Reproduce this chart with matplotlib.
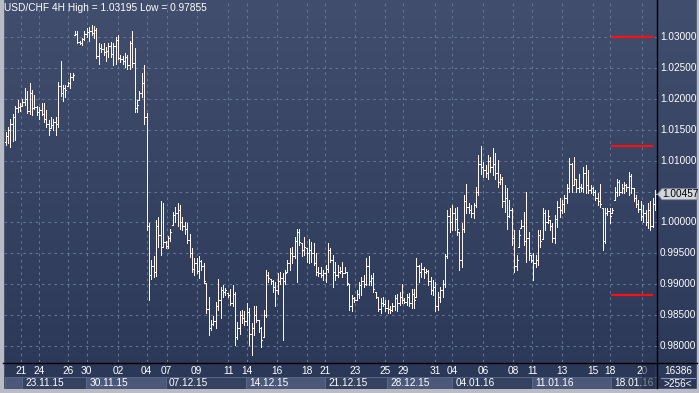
import numpy as np
import matplotlib
matplotlib.use("Agg")
import matplotlib.pyplot as plt
from matplotlib.patches import Rectangle, Polygon
from matplotlib.colors import LinearSegmentedColormap
from matplotlib.lines import Line2D
import matplotlib.transforms as mtransforms

# ---------------- data ----------------
symbol_title = "USD/CHF 4H High = 1.03195 Low = 0.97855"

highs = [
    1.0147, 1.0155, 1.0167, 1.0175, 1.0188, 1.0198, 1.0193, 1.0200, 1.0217, 1.0213,
    1.0225, 1.0214, 1.0206, 1.0188, 1.0186, 1.0193, 1.0193, 1.0182, 1.0166, 1.0171,
    1.0168, 1.0171, 1.0228, 1.0261, 1.0222, 1.0222, 1.0228, 1.0241, 1.0242, 1.0310,
    1.0309, 1.0294, 1.0298, 1.0309, 1.0314, 1.0317, 1.03195, 1.0318, 1.0314, 1.0290,
    1.0289, 1.0291, 1.0284, 1.0291, 1.0292, 1.0290, 1.0300, 1.0303, 1.0271, 1.0269,
    1.0274, 1.0271, 1.0294, 1.0309, 1.0282, 1.0198, 1.0213, 1.0241, 1.0255, 1.0177,
    0.9999, 0.9939, 0.9946, 1.0004, 1.0009, 1.0034, 1.0032, 0.9970, 0.9978, 0.9989,
    1.0017, 1.0025, 1.0031, 1.0028, 1.0009, 1.0001, 0.9999, 0.9982, 0.9959, 0.9942,
    0.9942, 0.9945, 0.9939, 0.9934, 0.9902, 0.9880, 0.9842, 0.9849, 0.9872, 0.9908,
    0.9896, 0.9899, 0.9894, 0.9886, 0.9893, 0.9899, 0.9888, 0.9839, 0.9856, 0.9858,
    0.9856, 0.9870, 0.9861, 0.9837, 0.9864, 0.9865, 0.9842, 0.9831, 0.9858, 0.9923,
    0.9920, 0.9908, 0.9907, 0.9904, 0.9918, 0.9920, 0.9918, 0.9923, 0.9939, 0.9958,
    0.9961, 0.9977, 0.9990, 0.9990, 0.9966, 0.9976, 0.9958, 0.9974, 0.9969, 0.9967,
    0.9950, 0.9928, 0.9928, 0.9923, 0.9931, 0.9967, 0.9958, 0.9947, 0.9936, 0.9931,
    0.9928, 0.9936, 0.9928, 0.9920, 0.9901, 0.9883, 0.9880, 0.9891, 0.9904, 0.9912,
    0.9915, 0.9942, 0.9945, 0.9915, 0.9918, 0.9888, 0.9880, 0.9877, 0.9880, 0.9874,
    0.9874, 0.9864, 0.9869, 0.9883, 0.9885, 0.9888, 0.9901, 0.9877, 0.9885, 0.9886,
    0.9892, 0.9893, 0.9942, 0.9931, 0.9934, 0.9928, 0.9924, 0.9923, 0.9912, 0.9907,
    0.9904, 0.9888, 0.9896, 0.9907, 0.9949, 1.0020, 1.0023, 1.0028, 1.0023, 1.0025,
    0.9985, 0.9999, 1.0044, 1.0063, 1.0031, 1.0028, 1.0031, 1.0058, 1.0109, 1.0124,
    1.0098, 1.0093, 1.0109, 1.0106, 1.0120, 1.0112, 1.0101, 1.0079, 1.0074, 1.0060,
    1.0055, 1.0036, 1.0023, 0.9988, 0.9947, 0.9988, 1.0004, 1.0017, 1.0050, 0.9985,
    0.9947, 0.9950, 0.9947, 0.9988, 0.9988, 1.0023, 1.0020, 1.0020, 1.0004, 0.9999,
    1.0012, 1.0034, 1.0039, 1.0036, 1.0044, 1.0063, 1.0104, 1.0096, 1.0106, 1.0071,
    1.0079, 1.0063, 1.0090, 1.0093, 1.0085, 1.0060, 1.0058, 1.0052, 1.0047, 1.0063,
    1.0023, 1.0023, 1.0023, 1.0024, 1.0023, 1.0058, 1.0071, 1.0069, 1.0063, 1.0066,
    1.0063, 1.0082, 1.0079, 1.0055, 1.0044, 1.0036, 1.0034, 1.0028, 1.0020, 1.0031,
    1.0034, 1.0039, 1.0052,
]

lows = [
    1.0125, 1.0128, 1.0122, 1.0131, 1.0134, 1.0179, 1.0181, 1.0188, 1.0190, 1.0177,
    1.0175, 1.0174, 1.0183, 1.0174, 1.0168, 1.0174, 1.0163, 1.0155, 1.0141, 1.0152,
    1.0150, 1.0141, 1.0155, 1.0205, 1.0197, 1.0203, 1.0220, 1.0217, 1.0230, 1.0303,
    1.0290, 1.0289, 1.0287, 1.0295, 1.0300, 1.0294, 1.0303, 1.0298, 1.0266, 1.0257,
    1.0276, 1.0271, 1.0262, 1.0267, 1.0268, 1.0255, 1.0257, 1.0264, 1.0260, 1.0257,
    1.0252, 1.0248, 1.0249, 1.0252, 1.0179, 1.0179, 1.0198, 1.0203, 1.0160, 0.9988,
    0.9874, 0.9908, 0.9912, 0.9913, 0.9961, 0.9947, 0.9961, 0.9959, 0.9959, 0.9970,
    0.9996, 1.0001, 0.9994, 0.9990, 0.9988, 0.9982, 0.9967, 0.9944, 0.9920, 0.9915,
    0.9918, 0.9910, 0.9923, 0.9902, 0.9853, 0.9818, 0.9826, 0.9834, 0.9829, 0.9858,
    0.9845, 0.9880, 0.9883, 0.9880, 0.9866, 0.9864, 0.9802, 0.9812, 0.9820, 0.9837,
    0.9834, 0.9834, 0.9802, 0.97855, 0.9818, 0.9839, 0.9823, 0.9799, 0.9815, 0.9847,
    0.9904, 0.9901, 0.9888, 0.9864, 0.9885, 0.9901, 0.9810, 0.9901, 0.9920, 0.9923,
    0.9934, 0.9942, 0.9904, 0.9963, 0.9945, 0.9947, 0.9936, 0.9934, 0.9936, 0.9931,
    0.9915, 0.9913, 0.9912, 0.9907, 0.9904, 0.9920, 0.9936, 0.9896, 0.9907, 0.9912,
    0.9918, 0.9912, 0.9918, 0.9899, 0.9858, 0.9856, 0.9872, 0.9874, 0.9877, 0.9883,
    0.9896, 0.9899, 0.9899, 0.9899, 0.9888, 0.9877, 0.9856, 0.9853, 0.9864, 0.9856,
    0.9853, 0.9853, 0.9856, 0.9858, 0.9856, 0.9866, 0.9869, 0.9869, 0.9866, 0.9864,
    0.9861, 0.9861, 0.9880, 0.9904, 0.9912, 0.9910, 0.9918, 0.9899, 0.9885, 0.9883,
    0.9856, 0.9858, 0.9872, 0.9880, 0.9896, 0.9942, 0.9985, 0.9988, 0.9988, 0.9980,
    0.9923, 0.9928, 0.9985, 1.0015, 1.0015, 1.0009, 1.0007, 1.0025, 1.0044, 1.0079,
    1.0074, 1.0074, 1.0071, 1.0082, 1.0077, 1.0071, 1.0058, 1.0063, 1.0025, 1.0017,
    0.9990, 1.0009, 0.9963, 0.9920, 0.9923, 0.9961, 0.9991, 0.9963, 0.9936, 0.9939,
    0.9936, 0.9907, 0.9928, 0.9931, 0.9961, 0.9974, 0.9988, 0.9999, 0.9988, 0.9969,
    0.9966, 0.9993, 1.0009, 1.0015, 1.0017, 1.0031, 1.0050, 1.0050, 1.0061, 1.0050,
    1.0050, 1.0051, 1.0050, 1.0047, 1.0047, 1.0047, 1.0044, 1.0036, 1.0028, 1.0025,
    0.9955, 0.9966, 1.0012, 0.9999, 1.0016, 1.0036, 1.0042, 1.0044, 1.0047, 1.0047,
    1.0051, 1.0044, 1.0047, 1.0034, 1.0025, 1.0017, 1.0004, 1.0001, 0.9996, 0.9991,
    0.9988, 0.9993, 1.0020,
]

opens = [
    1.0130, 1.0140, 1.0150, 1.0160, 1.0170, 1.0185, 1.0186, 1.0188, 1.0195, 1.0200,
    1.0180, 1.0210, 1.0185, 1.0186, 1.0178, 1.0182, 1.0176, 1.0168, 1.0160, 1.0152,
    1.0158, 1.0162, 1.0160, 1.0220, 1.0210, 1.0218, 1.0220, 1.0225, 1.0235, 1.0303,
    1.0305, 1.0292, 1.0291, 1.0296, 1.0305, 1.0308, 1.0310, 1.0306, 1.0312, 1.0270,
    1.0282, 1.0280, 1.0275, 1.0278, 1.0285, 1.0272, 1.0285, 1.0295, 1.0266, 1.0265,
    1.0262, 1.0268, 1.0255, 1.0290, 1.0258, 1.0185, 1.0198, 1.0210, 1.0225, 1.0170,
    0.9995, 0.9915, 0.9930, 0.9920, 0.9995, 0.9980, 0.9961, 0.9968, 0.9962, 0.9975,
    0.9996, 1.0012, 1.0015, 1.0020, 1.0000, 0.9995, 0.9990, 0.9972, 0.9950, 0.9925,
    0.9935, 0.9922, 0.9938, 0.9930, 0.9902, 0.9860, 0.9830, 0.9835, 0.9840, 0.9865,
    0.9875, 0.9890, 0.9888, 0.9886, 0.9883, 0.9870, 0.9885, 0.9815, 0.9830, 0.9850,
    0.9845, 0.9840, 0.9855, 0.9820, 0.9830, 0.9850, 0.9842, 0.9830, 0.9815, 0.9850,
    0.9915, 0.9908, 0.9905, 0.9895, 0.9890, 0.9905, 0.9910, 0.9905, 0.9920, 0.9935,
    0.9950, 0.9945, 0.9970, 0.9985, 0.9966, 0.9955, 0.9958, 0.9950, 0.9955, 0.9950,
    0.9935, 0.9920, 0.9918, 0.9915, 0.9918, 0.9925, 0.9955, 0.9940, 0.9920, 0.9915,
    0.9920, 0.9922, 0.9918, 0.9920, 0.9901, 0.9865, 0.9878, 0.9875, 0.9885, 0.9898,
    0.9905, 0.9900, 0.9930, 0.9905, 0.9910, 0.9888, 0.9880, 0.9860, 0.9870, 0.9868,
    0.9862, 0.9860, 0.9858, 0.9865, 0.9878, 0.9870, 0.9880, 0.9875, 0.9872, 0.9880,
    0.9870, 0.9885, 0.9880, 0.9930, 0.9920, 0.9925, 0.9920, 0.9921, 0.9905, 0.9890,
    0.9895, 0.9865, 0.9880, 0.9890, 0.9900, 0.9945, 1.0010, 1.0000, 1.0015, 1.0005,
    0.9985, 0.9940, 0.9990, 1.0035, 1.0025, 1.0020, 1.0015, 1.0028, 1.0050, 1.0095,
    1.0090, 1.0085, 1.0080, 1.0100, 1.0090, 1.0095, 1.0080, 1.0065, 1.0070, 1.0035,
    1.0040, 1.0010, 1.0020, 0.9975, 0.9930, 0.9961, 0.9991, 0.9995, 0.9970, 0.9975,
    0.9947, 0.9940, 0.9935, 0.9940, 0.9980, 0.9974, 1.0015, 1.0000, 1.0004, 0.9995,
    0.9975, 1.0005, 1.0025, 1.0020, 1.0030, 1.0040, 1.0055, 1.0095, 1.0061, 1.0070,
    1.0055, 1.0058, 1.0055, 1.0080, 1.0060, 1.0052, 1.0055, 1.0050, 1.0040, 1.0035,
    1.0023, 0.9970, 1.0015, 1.0018, 1.0016, 1.0036, 1.0050, 1.0065, 1.0050, 1.0055,
    1.0060, 1.0058, 1.0075, 1.0055, 1.0040, 1.0030, 1.0022, 1.0010, 1.0015, 1.0000,
    1.0020, 0.9995, 1.0030,
]

closes = [
    1.0140, 1.0150, 1.0160, 1.0170, 1.0185, 1.0186, 1.0188, 1.0195, 1.0200, 1.0180,
    1.0210, 1.0185, 1.0186, 1.0178, 1.0182, 1.0176, 1.0168, 1.0160, 1.0150, 1.0158,
    1.0162, 1.0160, 1.0220, 1.0210, 1.0218, 1.0214, 1.0225, 1.0235, 1.0238, 1.0305,
    1.0292, 1.0291, 1.0296, 1.0305, 1.0308, 1.0310, 1.0306, 1.0312, 1.0270, 1.0282,
    1.0280, 1.0275, 1.0278, 1.0285, 1.0272, 1.0285, 1.0295, 1.0266, 1.0265, 1.0262,
    1.0268, 1.0255, 1.0290, 1.0258, 1.0185, 1.0190, 1.0210, 1.0225, 1.0170, 0.9995,
    0.9915, 0.9930, 0.9920, 0.9995, 0.9980, 0.9960, 0.9968, 0.9962, 0.9975, 0.9985,
    1.0012, 1.0015, 1.0020, 1.0000, 0.9995, 0.9990, 0.9972, 0.9950, 0.9925, 0.9935,
    0.9922, 0.9938, 0.9930, 0.9905, 0.9860, 0.9830, 0.9835, 0.9840, 0.9865, 0.9875,
    0.9890, 0.9888, 0.9890, 0.9883, 0.9870, 0.9885, 0.9815, 0.9830, 0.9850, 0.9845,
    0.9840, 0.9855, 0.9820, 0.9830, 0.9850, 0.9842, 0.9830, 0.9810, 0.9850, 0.9915,
    0.9910, 0.9905, 0.9895, 0.9890, 0.9905, 0.9910, 0.9905, 0.9918, 0.9935, 0.9950,
    0.9945, 0.9970, 0.9985, 0.9968, 0.9955, 0.9960, 0.9950, 0.9955, 0.9950, 0.9935,
    0.9920, 0.9918, 0.9915, 0.9918, 0.9925, 0.9955, 0.9940, 0.9920, 0.9915, 0.9920,
    0.9922, 0.9918, 0.9920, 0.9902, 0.9865, 0.9878, 0.9875, 0.9885, 0.9898, 0.9905,
    0.9900, 0.9930, 0.9905, 0.9910, 0.9892, 0.9880, 0.9860, 0.9870, 0.9868, 0.9862,
    0.9860, 0.9858, 0.9865, 0.9878, 0.9870, 0.9880, 0.9875, 0.9872, 0.9880, 0.9870,
    0.9885, 0.9875, 0.9930, 0.9920, 0.9925, 0.9920, 0.9921, 0.9905, 0.9890, 0.9895,
    0.9865, 0.9880, 0.9890, 0.9900, 0.9945, 1.0010, 1.0000, 1.0015, 1.0005, 0.9990,
    0.9940, 0.9990, 1.0035, 1.0025, 1.0020, 1.0015, 1.0028, 1.0050, 1.0095, 1.0090,
    1.0085, 1.0080, 1.0100, 1.0090, 1.0095, 1.0080, 1.0065, 1.0070, 1.0035, 1.0040,
    1.0010, 1.0020, 0.9975, 0.9930, 0.9940, 0.9980, 0.9995, 0.9970, 0.9975, 0.9950,
    0.9940, 0.9935, 0.9940, 0.9980, 0.9970, 1.0015, 1.0000, 1.0010, 0.9995, 0.9975,
    1.0005, 1.0025, 1.0020, 1.0030, 1.0040, 1.0055, 1.0095, 1.0060, 1.0070, 1.0055,
    1.0058, 1.0055, 1.0080, 1.0060, 1.0052, 1.0055, 1.0050, 1.0040, 1.0035, 1.0030,
    0.9970, 1.0015, 1.0018, 1.0010, 1.0020, 1.0050, 1.0065, 1.0050, 1.0055, 1.0060,
    1.0058, 1.0075, 1.0055, 1.0040, 1.0030, 1.0022, 1.0010, 1.0015, 1.0000, 1.0020,
    0.9995, 1.0030, 1.00457,
]

price_ticks = [1.03, 1.025, 1.02, 1.015, 1.01, 1.005, 1.0, 0.995, 0.99, 0.985, 0.98]
red_levels = [1.0300, 1.0123, 0.9883]

day_labels = ["21", "24", "26", "30", "02", "04", "07", "09", "11", "14", "16", "18",
              "21", "23", "25", "29", "31", "04", "06", "08", "11", "13", "15", "18", "20"]
day_label_bars = [6.28, 13.95, 26.23, 33.93, 47.17, 59.07, 67.45, 80.02, 93.26, 100.96,
                  113.53, 126.10, 133.77, 146.34, 158.90, 166.44, 179.85, 186.97, 199.96,
                  212.53, 220.49, 233.06, 246.05, 253.17, 266.57]

week_labels = ["", "23.11.15", "30.11.15", "07.12.15", "14.12.15", "21.12.15",
               "28.12.15", "04.01.16", "11.01.16", "18.01.16"]
week_start_bars = [-0.29, 6.83, 33.64, 67.15, 100.67, 133.77, 159.74, 186.97, 220.49, 253.59]

corner_top = "16386"
corner_bottom = ">256<"

# ---------------- figure ----------------
W, H = 699, 393
fig = plt.figure(figsize=(W / 100, H / 100), dpi=100)
plt.rcParams["font.family"] = ["Liberation Sans", "DejaVu Sans"]

def fx(px):
    return px / W

def fy(py):
    return 1 - py / H

bg = fig.add_axes([0, 0, 1, 1])
bg.set_axis_off()
bg.set_xlim(0, 1)
bg.set_ylim(0, 1)
grad = np.linspace(0, 1, 256).reshape(-1, 1)
cmap = LinearSegmentedColormap.from_list("bg", ["#414e6d", "#2a3756"])
bg.imshow(grad, aspect="auto", cmap=cmap, extent=[0, 1, 0, 1], origin="upper", zorder=0)

frame_col = "#b9bcc4"
bg.add_patch(Rectangle((0, 0), fx(3), 1, color=frame_col, zorder=1))
bg.add_patch(Rectangle((0, 0), 1, fy(388.5), color=frame_col, zorder=1))
bg.add_patch(Rectangle((fx(697), 0), 1 - fx(697), 1, color=frame_col, zorder=1))

ax = fig.add_axes([fx(4), fy(362), (657 - 4) / W, 362 / H])
ax.patch.set_alpha(0)
for s in ax.spines.values():
    s.set_visible(False)
ax.set_xticks([])
ax.set_yticks([])
n = len(highs)
x = np.arange(n)
ax.set_xlim(-0.712, 272.8)
ax.set_ylim(0.97742, 1.03599)

grid_col = "#66759a"
for p in price_ticks:
    ax.axhline(p, color=grid_col, lw=0.75, ls=(0, (2.5, 3.5)), zorder=1)
for b in day_label_bars:
    ax.axvline(b, color=grid_col, lw=0.75, ls=(0, (2.5, 3.5)), zorder=1)

bar_col = "#fff6f2"
LW = 0.72
ax.vlines(x, lows, highs, colors=bar_col, lw=LW, antialiased=False, zorder=3)
ax.hlines(opens, x - 0.42, x, colors=bar_col, lw=LW, antialiased=False, zorder=3)
ax.hlines(closes, x, x + 0.42, colors=bar_col, lw=LW, antialiased=False, zorder=3)

ax.hlines(red_levels, 253.6, 271.2, colors="#ff1010", lw=1.6, zorder=4)

fig.text(fx(4), fy(8), symbol_title, color="white", fontsize=7.3, ha="left", va="center")

# current price tag position
last = closes[-1]
yf = ax.transData.transform((0, last))[1] / H
hh = 5.5 / H

trans = mtransforms.blended_transform_factory(fig.transFigure, ax.transData)
for p in price_ticks:
    py = ax.transData.transform((0, p))[1] / H
    if abs(py - yf) < 12 / H:
        continue  # hidden behind the current-price tag
    ax.text(fx(660), p, f"{p:.5f}", transform=trans, color="white", fontsize=7.2,
            ha="left", va="center", clip_on=False)

poly = Polygon([(fx(657.5), yf), (fx(662), yf + hh), (fx(697), yf + hh),
                (fx(697), yf - hh), (fx(662), yf - hh)], closed=True,
               transform=fig.transFigure, facecolor="#d2d5dc", edgecolor="#8a8f9c",
               lw=0.6, zorder=10)
fig.patches.append(poly)
fig.text(fx(680), yf, f"{last:.5f}", color="black", fontsize=7.2, ha="center",
         va="center", zorder=11)

fig.add_artist(Line2D([fx(657), fx(657)], [fy(0), fy(388)], color="black", lw=1.0,
                      transform=fig.transFigure))
fig.add_artist(Line2D([fx(3), fx(697)], [fy(362.5), fy(362.5)], color="black", lw=1.0,
                      transform=fig.transFigure))

axd = fig.add_axes([fx(4), fy(388.5), 653 / W, 26 / H])
axd.patch.set_alpha(0)
for s in axd.spines.values():
    s.set_visible(False)
axd.set_xticks([])
axd.set_yticks([])
axd.set_xlim(-0.712, 272.8)
axd.set_ylim(26, 0)

ends = week_start_bars[1:] + [272.8]
for i, (st, en) in enumerate(zip(week_start_bars, ends)):
    light = (i % 2 == 0)
    axd.add_patch(Rectangle((st, 14.5), en - st, 11.5,
                            facecolor="#4b5879" if light else "#34415f",
                            edgecolor="#5f6c8c", lw=0.6, zorder=1))
    if week_labels[i]:
        axd.text(st + 1.3, 20.8, week_labels[i], color="white", fontsize=7.3,
                 ha="left", va="center", zorder=3)
for b, lbl in zip(day_label_bars, day_labels):
    axd.text(b, 8.8, lbl, color="white", fontsize=7.3, ha="center", va="center", zorder=3)

axd.add_patch(Rectangle((266.5, 0.5), 5.5, 25.5, facecolor="#1f2a45", alpha=0.55,
                        edgecolor="none", zorder=4))

fig.text(fx(678), fy(371.5), corner_top, color="white", fontsize=7.2, ha="center", va="center")
fig.text(fx(678), fy(384), corner_bottom, color="white", fontsize=7.2, ha="center", va="center")
fig.add_artist(Line2D([fx(661), fx(695)], [fy(377.5), fy(377.5)], color="#8e98b0", lw=0.8,
                      transform=fig.transFigure))

fig.savefig("out.png", dpi=100)
